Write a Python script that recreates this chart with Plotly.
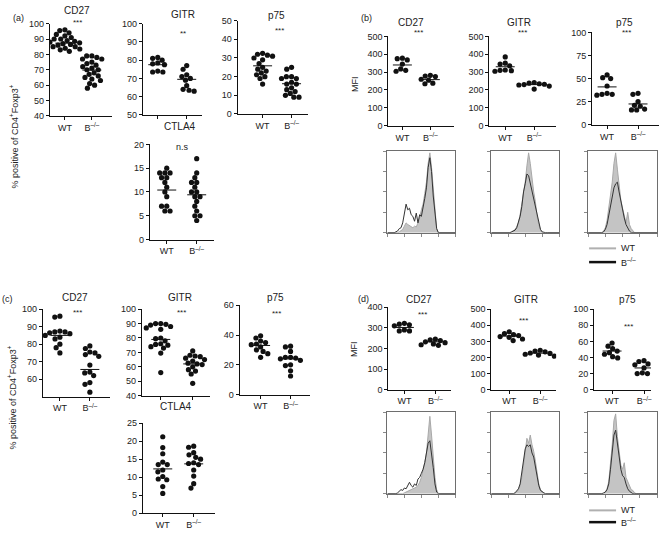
import math
import plotly.graph_objects as go

W, H = 661, 535
FONT = "Liberation Sans, Arial, sans-serif"
TXT = "#222222"

# ---------------- data: dot plots (WT, B-/-) ----------------
groups = ["WT", "B<sup>–/–</sup>"]

a_cd27_wt = [96, 95.5, 94, 93, 92, 91, 90, 90, 89, 88.5, 88, 87.5, 87, 86.5, 86, 85, 85, 84, 83.5, 83, 82]
a_cd27_b = [79, 79, 78, 77, 77, 75, 74, 73, 72, 71, 70, 70, 68, 67, 66, 65, 64, 63, 61, 60, 58]
a_gitr_wt = [81.5, 81, 80, 78.5, 78, 77.5, 74, 73.5, 73.5]
a_gitr_b = [77, 75, 72, 71, 70, 69, 66, 64, 63.5, 63]
a_p75_wt = [32.5, 32, 31.5, 31, 30, 29, 27, 25, 24, 23, 22, 21, 20, 19, 16]
a_p75_b = [25, 24, 20, 20, 19, 19, 17, 16, 16, 14, 13, 12, 11, 10, 9, 9]
a_ctla4_wt = [15, 14, 14, 14, 13, 13, 12, 11, 10, 9, 7, 7, 6, 6]
a_ctla4_b = [17, 14, 13, 12, 12, 11, 10, 10, 9, 9, 8, 7, 6, 5, 5, 4]

b_cd27_wt = [378, 375, 368, 345, 318, 310, 305]
b_cd27_b = [282, 278, 275, 260, 255, 238, 235]
b_gitr_wt = [385, 350, 345, 335, 312, 310, 308, 305]
b_gitr_b = [242, 238, 235, 232, 230, 228, 222, 205]
b_p75_wt = [54, 51, 50, 42, 34, 33, 33, 32]
b_p75_b = [34, 33, 25, 21, 20, 17, 16, 16]

c_cd27_wt = [96, 95.5, 87.5, 87, 87, 86.5, 86, 85, 84, 83, 80, 78, 75]
c_cd27_b = [79, 77.5, 75.5, 75, 74, 73, 68, 64, 63.5, 62, 58, 57, 52.5]
c_gitr_wt = [90, 90, 89.5, 89, 88, 87, 86, 80, 79.5, 78, 76, 75.5, 75, 74, 73, 69.5, 56]
c_gitr_b = [71, 68, 67.5, 67, 66, 65, 64, 62.5, 62, 61.5, 60, 58, 57, 55, 48.5]
c_p75_wt = [39.5, 38, 36, 35, 34, 33.5, 32, 30, 29, 27.5, 25]
c_p75_b = [32.5, 32, 29, 25, 25, 24.5, 24, 23, 20, 19.5, 16, 12.5]
c_ctla4_wt = [21.2, 18.2, 16.5, 14.2, 13.5, 13.5, 12, 11.5, 10.2, 9.5, 9.3, 7.4, 5.5]
c_ctla4_b = [18.6, 18.3, 16.8, 16.2, 15.5, 15, 14, 13.8, 13.5, 12, 10.3, 8.2, 7]

d_cd27_wt = [322, 318, 315, 310, 290, 285, 285]
d_cd27_b = [245, 242, 238, 232, 228, 222, 218, 215]
d_gitr_wt = [360, 348, 342, 336, 330, 325, 315, 305]
d_gitr_b = [245, 240, 235, 228, 225, 220, 215, 208]
d_p75_wt = [58, 54, 51, 48, 46, 44, 41, 39.5]
d_p75_b = [36, 35, 32, 31, 27, 21, 20, 20]

# group mean lines (WT, B-/-)
a_means = {"CD27": [87.3, 69.8], "GITR": [77.5, 69.5], "p75": [25.8, 16.2], "CTLA4": [10.4, 9.4]}
b_means = {"CD27": [340, 258], "GITR": [330, 230], "p75": [41, 22.5]}
c_means = {"CD27": [85, 65.5], "GITR": [79, 62], "p75": [33, 24], "CTLA4": [12.3, 13.7]}
d_means = {"CD27": [302, 232], "GITR": [333, 227], "p75": [48, 27]}

# ---------------- data: histograms ----------------
hist_x = [0.0, 0.1, 0.2, 0.3, 0.4, 0.5, 0.6, 0.7, 0.8, 0.9, 1.0, 1.1, 1.2, 1.3, 1.4, 1.5, 1.6, 1.7, 1.8, 1.9, 2.0,
          2.1, 2.2, 2.3, 2.4, 2.5, 2.6, 2.7, 2.8, 2.9, 3.0, 3.1, 3.2, 3.3, 3.4, 3.5, 3.6, 3.7, 3.8, 3.9, 4.0]

b_cd27_h_wt = [0, 0, 0, 0, 0, 0, 0, 0.01, 0.02, 0.04, 0.08, 0.12, 0.10, 0.09, 0.07, 0.06, 0.08, 0.07, 0.12, 0.18, 0.28,
               0.35, 0.48, 0.62, 0.85, 0.98, 0.80, 0.55, 0.30, 0.05, 0, 0, 0, 0, 0, 0, 0, 0, 0, 0, 0]
b_cd27_h_b = [0, 0, 0, 0, 0, 0.01, 0.02, 0.05, 0.06, 0.12, 0.22, 0.35, 0.28, 0.30, 0.22, 0.20, 0.14, 0.24, 0.12, 0.22, 0.20,
              0.30, 0.42, 0.55, 0.80, 0.92, 0.75, 0.45, 0.22, 0.05, 0, 0, 0, 0, 0, 0, 0, 0, 0, 0, 0]
b_gitr_h_wt = [0, 0, 0, 0, 0, 0, 0, 0, 0, 0, 0, 0, 0.01, 0.02, 0.04, 0.07, 0.12, 0.22, 0.35, 0.50, 0.62,
               0.82, 0.98, 0.85, 0.65, 0.50, 0.38, 0.20, 0.10, 0.03, 0, 0, 0, 0, 0, 0, 0, 0, 0, 0, 0]
b_gitr_h_b = [0, 0, 0, 0, 0, 0, 0, 0, 0, 0, 0, 0, 0.01, 0.02, 0.03, 0.06, 0.12, 0.20, 0.32, 0.50, 0.60,
              0.72, 0.70, 0.60, 0.50, 0.42, 0.30, 0.20, 0.10, 0.04, 0.01, 0, 0, 0, 0, 0, 0, 0, 0, 0, 0]
b_p75_h_wt = [0, 0, 0, 0, 0, 0, 0, 0, 0, 0.02, 0.06, 0.15, 0.30, 0.45, 0.62, 0.85, 0.98, 0.78, 0.55, 0.40, 0.30,
              0.20, 0.12, 0.25, 0.10, 0.05, 0.02, 0, 0, 0, 0, 0, 0, 0, 0, 0, 0, 0, 0, 0, 0]
b_p75_h_b = [0, 0, 0, 0, 0, 0, 0, 0, 0, 0.01, 0.04, 0.10, 0.22, 0.35, 0.48, 0.55, 0.60, 0.62, 0.50, 0.38, 0.28,
             0.18, 0.10, 0.05, 0.02, 0, 0, 0, 0, 0, 0, 0, 0, 0, 0, 0, 0, 0, 0, 0, 0]
d_cd27_h_wt = [0, 0, 0, 0, 0, 0, 0, 0, 0, 0, 0.01, 0.02, 0.03, 0.04, 0.05, 0.06, 0.06, 0.08, 0.10, 0.14, 0.20,
               0.28, 0.38, 0.50, 0.70, 0.95, 0.72, 0.45, 0.20, 0.05, 0, 0, 0, 0, 0, 0, 0, 0, 0, 0, 0]
d_cd27_h_b = [0, 0, 0, 0, 0, 0, 0.01, 0.03, 0.05, 0.04, 0.07, 0.06, 0.10, 0.14, 0.10, 0.08, 0.12, 0.10, 0.18, 0.20, 0.25,
              0.30, 0.38, 0.50, 0.62, 0.65, 0.50, 0.32, 0.12, 0.02, 0, 0, 0, 0, 0, 0, 0, 0, 0, 0, 0]
d_gitr_h_wt = [0, 0, 0, 0, 0, 0, 0, 0, 0, 0, 0, 0, 0, 0, 0, 0.02, 0.05, 0.10, 0.20, 0.35, 0.55,
               0.68, 0.62, 0.72, 0.60, 0.52, 0.40, 0.25, 0.12, 0.05, 0.02, 0, 0, 0, 0, 0, 0, 0, 0, 0, 0]
d_gitr_h_b = [0, 0, 0, 0, 0, 0, 0, 0, 0, 0, 0, 0, 0, 0, 0.01, 0.03, 0.06, 0.12, 0.25, 0.38, 0.55,
              0.60, 0.58, 0.60, 0.50, 0.45, 0.32, 0.20, 0.10, 0.04, 0.02, 0.01, 0, 0, 0, 0, 0, 0, 0, 0, 0]
d_p75_h_wt = [0, 0, 0, 0, 0, 0, 0, 0, 0, 0, 0.02, 0.06, 0.15, 0.35, 0.60, 0.90, 0.98, 0.70, 0.50, 0.35, 0.30,
              0.38, 0.20, 0.15, 0.08, 0.05, 0.04, 0.01, 0, 0, 0, 0, 0, 0, 0, 0, 0, 0, 0, 0, 0]
d_p75_h_b = [0, 0, 0, 0, 0, 0, 0, 0, 0, 0.01, 0.02, 0.05, 0.12, 0.30, 0.55, 0.72, 0.78, 0.60, 0.42, 0.30, 0.22,
             0.20, 0.12, 0.06, 0.03, 0.01, 0, 0, 0, 0, 0, 0, 0, 0, 0, 0, 0, 0, 0, 0, 0]

# ---------------- layout specs (pixels) ----------------
# (wt, b, mean, L, R, top, bottom, yrange, yticks, wt_px, b_px, show_x_labels)
dot_specs = [
    (a_cd27_wt, a_cd27_b, a_means["CD27"], 50, 112, 19, 113, [40, 100], list(range(40, 101, 10)), 65, 92, True),
    (a_gitr_wt, a_gitr_b, a_means["GITR"], 143, 202, 19, 112, [50, 100], list(range(50, 101, 10)), 158, 187, False),
    (a_p75_wt, a_p75_b, a_means["p75"], 238, 308, 16, 111, [0, 50], list(range(0, 51, 10)), 263, 292, True),
    (a_ctla4_wt, a_ctla4_b, a_means["CTLA4"], 150, 214, 142, 239, [0, 20], [0, 5, 10, 15, 20], 167, 197, True),
    (b_cd27_wt, b_cd27_b, b_means["CD27"], 389, 455, 32, 123, [0, 500], list(range(0, 501, 100)), 403, 431, True),
    (b_gitr_wt, b_gitr_b, b_means["GITR"], 490, 557, 32, 123, [0, 500], list(range(0, 501, 100)), 506, 535, True),
    (b_p75_wt, b_p75_b, b_means["p75"], 593, 660, 28, 122, [0, 100], [0, 25, 50, 75, 100], 608, 639, True),
    (c_cd27_wt, c_cd27_b, c_means["CD27"], 43, 110, 310, 399, [50, 100], [60, 70, 80, 90, 100], 60, 90, True),
    (c_gitr_wt, c_gitr_b, c_means["GITR"], 142, 210, 310, 398, [40, 100], list(range(40, 101, 10)), 161, 193, False),
    (c_p75_wt, c_p75_b, c_means["p75"], 240, 310, 306, 397, [0, 60], [0, 20, 40, 60], 261, 291, True),
    (c_ctla4_wt, c_ctla4_b, c_means["CTLA4"], 143, 215, 426, 518, [0, 25], [0, 5, 10, 15, 20, 25], 163, 194, True),
    (d_cd27_wt, d_cd27_b, d_means["CD27"], 389, 452, 308, 392, [0, 400], [0, 100, 200, 300, 400], 405, 436, True),
    (d_gitr_wt, d_gitr_b, d_means["GITR"], 492, 557, 310, 392, [0, 500], list(range(0, 501, 100)), 510, 541, True),
    (d_p75_wt, d_p75_b, d_means["p75"], 595, 652, 310, 392, [0, 100], [0, 20, 40, 60, 80, 100], 613, 645, True),
]

hist_specs = [
    (b_cd27_h_wt, b_cd27_h_b, 388, 456, 149, 232),
    (b_gitr_h_wt, b_gitr_h_b, 492, 560, 149, 232),
    (b_p75_h_wt, b_p75_h_b, 589, 658, 149, 232),
    (d_cd27_h_wt, d_cd27_h_b, 388, 456, 415, 498),
    (d_gitr_h_wt, d_gitr_h_b, 492, 560, 415, 498),
    (d_p75_h_wt, d_p75_h_b, 589, 658, 415, 498),
]

DOT_D = 5.2  # px spacing for swarm


def swarm(values, px_per_unit, d=DOT_D):
    """Greedy beeswarm: returns x offsets in pixels."""
    order = sorted(range(len(values)), key=lambda i: -values[i])
    placed = []
    offs = [0.0] * len(values)
    for i in order:
        y = values[i] * px_per_unit
        forb = []
        for (px, py) in placed:
            dy = abs(py - y)
            if dy < d:
                dx = math.sqrt(d * d - dy * dy)
                forb.append((px - dx, px + dx))
        cands = [0.0] + [a for a, b in forb] + [b for a, b in forb]
        cands.sort(key=lambda c: (abs(c), c))
        for c in cands:
            if all(not (a + 1e-6 < c < b - 1e-6) for a, b in forb):
                offs[i] = c
                break
        placed.append((offs[i], y))
    return offs


fig = go.Figure()
layout = {}


def xdom(L, R):
    return [L / W, R / W]


def ydom(top, bottom):
    return [1 - bottom / H, 1 - top / H]


axn = 0
for spec in dot_specs:
    wt, bv, mean, L, R, top, bottom, yr, yt, wpx, bpx, showx = spec
    axn += 1
    xa = "x" if axn == 1 else f"x{axn}"
    ya = "y" if axn == 1 else f"y{axn}"
    unit = bpx - wpx
    xr = [(L - wpx) / unit, 1 + (R - bpx) / unit]
    ppu = (bottom - top) / (yr[1] - yr[0])
    for gi, vals in enumerate([wt, bv]):
        offs = swarm(vals, ppu)
        xs = [gi + o / unit for o in offs]
        fig.add_trace(go.Scatter(x=xs, y=vals, mode="markers", xaxis=xa, yaxis=ya,
                                 marker=dict(size=5.2, color="#111111"), showlegend=False,
                                 hoverinfo="skip"))
        half = 9.5 / unit
        fig.add_trace(go.Scatter(x=[gi - half, gi + half], y=[mean[gi], mean[gi]], mode="lines",
                                 xaxis=xa, yaxis=ya, line=dict(color="#111111", width=1),
                                 showlegend=False, hoverinfo="skip"))
    common = dict(showline=True, linecolor="#111111", linewidth=1, ticks="outside", ticklen=3,
                  tickwidth=1, tickcolor="#111111", showgrid=False, zeroline=False,
                  tickfont=dict(family=FONT, size=9, color=TXT), fixedrange=True)
    layout["xaxis" if axn == 1 else f"xaxis{axn}"] = dict(
        domain=xdom(L, R), range=xr, anchor=ya, tickvals=[0, 1], ticktext=groups,
        showticklabels=showx, **common)
    layout["yaxis" if axn == 1 else f"yaxis{axn}"] = dict(
        domain=ydom(top, bottom), range=yr, anchor=xa, tickvals=yt, **common)

for spec in hist_specs:
    hwt, hb, L, R, top, bottom = spec
    axn += 1
    xa, ya = f"x{axn}", f"y{axn}"
    fig.add_trace(go.Scatter(x=hist_x, y=hwt, mode="lines", xaxis=xa, yaxis=ya, fill="tozeroy",
                             fillcolor="#c4c4c4", line=dict(color="#a8a8a8", width=1),
                             showlegend=False, hoverinfo="skip"))
    fig.add_trace(go.Scatter(x=hist_x, y=hb, mode="lines", xaxis=xa, yaxis=ya,
                             line=dict(color="#333333", width=1), showlegend=False, hoverinfo="skip"))
    hcommon = dict(showline=True, mirror=True, linecolor="#6e6e6e", linewidth=1, ticks="outside",
                   ticklen=3, tickwidth=1, tickcolor="#8a8a8a", showgrid=False, zeroline=False,
                   showticklabels=False, fixedrange=True)
    layout[f"xaxis{axn}"] = dict(domain=xdom(L, R), range=[0, 4], anchor=ya,
                                 tickvals=[0, 1, 2, 3, 4], **hcommon)
    layout[f"yaxis{axn}"] = dict(domain=ydom(top, bottom), range=[0, 1.0], anchor=xa,
                                 tickvals=[0, 0.25, 0.5, 0.75, 1.0], **hcommon)

# ---------------- annotations ----------------
anns = []


def ann(px, py, text, size=9, xanchor="center", angle=0):
    anns.append(dict(x=px / W, y=1 - py / H, xref="paper", yref="paper", text=text, showarrow=False,
                     xanchor=xanchor, yanchor="middle", textangle=angle,
                     font=dict(family=FONT, size=size, color=TXT)))


# panel labels
ann(19, 13, "(a)")
ann(367, 13, "(b)")
ann(8, 300, "(c)")
ann(364, 300, "(d)")

# titles
for px, py, t in [(77, 6, "CD27"), (183, 10, "GITR"), (277, 11, "p75"), (180, 124, "CTLA4"),
                  (412, 18, "CD27"), (520, 18, "GITR"), (625, 18, "p75"),
                  (75, 298, "CD27"), (180, 298, "GITR"), (276, 298, "p75"), (176, 409, "CTLA4"),
                  (420, 300, "CD27"), (527, 300, "GITR"), (628, 300, "p75")]:
    ann(px, py, t, size=10)

# significance marks (asterisks sit high in their box, so centre a little lower)
for px, py, t in [(78, 16, "***"), (183, 27, "**"), (280, 24, "***"),
                  (419, 26, "***"), (523, 26, "***"), (627, 26, "***"),
                  (78, 311, "***"), (182, 311, "***"), (277, 312, "***"),
                  (423, 313, "***"), (524, 319, "***"), (629, 326, "***")]:
    ann(px, py + 2, t, size=8)
ann(183, 145, "n.s", size=9)

# y-axis titles
ann(15, 134, "% positive of CD4<sup>+</sup>Foxp3<sup>+</sup>", size=9, angle=-90)
ann(12, 400, "% positive of CD4<sup>+</sup>Foxp3<sup>+</sup>", size=9, angle=-90)
ann(355, 80, "MFI", size=9, angle=-90)
ann(355, 350, "MFI", size=9, angle=-90)

# histogram legends
shapes = []
for wy, by in [(248, 262), (515, 527)]:
    shapes.append(dict(type="line", xref="paper", yref="paper", x0=590 / W, x1=617 / W,
                       y0=1 - wy / H, y1=1 - wy / H, line=dict(color="#b0b0b0", width=2)))
    shapes.append(dict(type="line", xref="paper", yref="paper", x0=590 / W, x1=617 / W,
                       y0=1 - by / H, y1=1 - by / H, line=dict(color="#111111", width=2.5)))
    ann(620, wy, "WT", xanchor="left")
    ann(620, by, "B<sup>–/–</sup>", xanchor="left")

fig.update_layout(width=W, height=H, margin=dict(l=0, r=0, t=0, b=0), paper_bgcolor="white",
                  plot_bgcolor="white", annotations=anns, shapes=shapes, showlegend=False, **layout)

fig.write_html("out.html", config={"displayModeBar": False},
               post_script="document.body.style.margin='0';document.body.style.padding='0';"
                           "document.body.style.overflow='hidden';")
